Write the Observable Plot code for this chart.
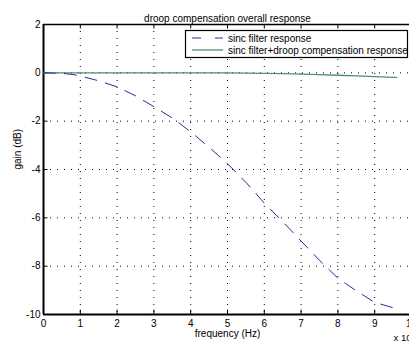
<!DOCTYPE html>
<html>
<head>
<meta charset="utf-8">
<script src="https://cdn.jsdelivr.net/npm/d3@7"></script>
<script src="https://cdn.jsdelivr.net/npm/@observablehq/plot@0.6"></script>
<style>
html, body { margin: 0; padding: 0; background: #fff; overflow: hidden; width: 409px; height: 343px; }
#chart { position: relative; width: 430px; }
#chart svg { max-width: none !important; }
</style>
</head>
<body>
<div id="chart"></div>
<script>
const freq = [0, 0.5, 0.8, 1.0, 1.5, 2.0, 2.5, 3.0, 3.5, 4.0, 4.5, 5.0, 5.5, 6.0, 6.5, 7.0, 7.5, 8.0, 8.5, 9.0, 9.5, 9.6];
const sincGain = [0, -0.02, -0.07, -0.13, -0.33, -0.58, -0.95, -1.40, -1.87, -2.44, -3.08, -3.76, -4.53, -5.39, -6.16, -6.96, -7.76, -8.50, -9.02, -9.50, -9.72, -9.75];
const compGain = [0, 0, 0, 0, 0, 0, 0, 0, 0, 0, 0, 0, -0.01, -0.02, -0.03, -0.05, -0.07, -0.10, -0.13, -0.16, -0.185, -0.19];
const xTicks = [0, 1, 2, 3, 4, 5, 6, 7, 8, 9, 10];
const yTicks = [2, 0, -2, -4, -6, -8, -10];
const seriesNames = ["sinc filter response", "sinc filter+droop compensation response"];
const titleText = "droop compensation overall response";
const xLabel = "frequency (Hz)";
const yLabel = "gain (dB)";
const xExponent = "x 10";

const sincColor = "#2b2b9c";
const compColor = "#4f8f6f";
const font = "'Liberation Sans', Arial, Helvetica, sans-serif";

const sincData = freq.map((f, i) => ({f, g: sincGain[i]}));
const compData = freq.map((f, i) => ({f, g: compGain[i]}));

const xDomain = [0, 10], yDomain = [-10, 2];
const W = 430, H = 343, mL = 43, mR = 19, mT = 24, mB = 29;
const tickLenX = (xDomain[1] - xDomain[0]) * 4.5 / (W - mL - mR);
const tickLenY = (yDomain[1] - yDomain[0]) * 4.5 / (H - mT - mB);

const chart = Plot.plot({
  width: W, height: H,
  marginLeft: mL, marginRight: mR, marginTop: mT, marginBottom: mB,
  style: {fontFamily: font, fontSize: "10px", color: "#000", background: "#fff", overflow: "visible", maxWidth: "none"},
  x: {domain: xDomain, label: null},
  y: {domain: yDomain, label: null},
  marks: [
    Plot.gridX(xTicks.filter(d => d > 0), {stroke: "#000", strokeOpacity: 1, strokeWidth: 1, strokeDasharray: "1,6"}),
    Plot.gridY(yTicks.filter(d => d > -10 && d < 2), {stroke: "#000", strokeOpacity: 1, strokeWidth: 1, strokeDasharray: "1,6"}),
    Plot.axisX({ticks: xTicks, tickSize: 0, tickPadding: 5, fontSize: 10, tickFormat: d => String(d)}),
    Plot.axisY({ticks: yTicks, tickSize: 0, tickPadding: 3, fontSize: 10, tickFormat: d => d < 0 ? "-" + Math.abs(d) : String(d)}),
    Plot.ruleX(xTicks, {x: d => d, y1: yDomain[0], y2: yDomain[0] + tickLenY, stroke: "#000"}),
    Plot.ruleX(xTicks, {x: d => d, y1: yDomain[1], y2: yDomain[1] - tickLenY, stroke: "#000"}),
    Plot.ruleY(yTicks, {y: d => d, x1: xDomain[0], x2: xDomain[0] + tickLenX, stroke: "#000"}),
    Plot.ruleX([xDomain[0]], {stroke: "#000", strokeWidth: 2}),
    Plot.ruleY([yDomain[0]], {stroke: "#000", strokeWidth: 2}),
    Plot.ruleY([yDomain[1]], {stroke: "#000", strokeWidth: 1.5}),
    Plot.line(compData, {x: "f", y: "g", stroke: compColor, strokeWidth: 1.3}),
    Plot.line(sincData, {x: "f", y: "g", stroke: sincColor, strokeWidth: 1, strokeDasharray: "12,9"}),
    Plot.text([titleText], {frameAnchor: "top", dy: -10, fontSize: 10}),
    Plot.text([xLabel], {frameAnchor: "bottom", dy: 22, fontSize: 10}),
    Plot.text([yLabel], {frameAnchor: "left", dx: -26, rotate: -90, fontSize: 10}),
    Plot.text([xExponent], {frameAnchor: "bottom-right", dx: -18, dy: 26, textAnchor: "start", fontSize: 9.5})
  ]
});

document.getElementById("chart").appendChild(chart);

// Legend box drawn into the same SVG
const svg = d3.select(chart);
const lg = svg.append("g").attr("font-family", font).attr("font-size", 10).attr("text-anchor", "start");
lg.append("rect").attr("x", 185.5).attr("y", 30.5).attr("width", 222).attr("height", 27)
  .attr("fill", "#fff").attr("stroke", "#000").attr("stroke-width", 1.2);
const entries = [
  {name: seriesNames[0], color: sincColor, dash: "9,14", width: 1},
  {name: seriesNames[1], color: compColor, dash: null, width: 1.3}
];
entries.forEach((e, i) => {
  const y = 38 + i * 12;
  lg.append("line").attr("x1", 192).attr("x2", 223).attr("y1", y).attr("y2", y)
    .attr("stroke", e.color).attr("stroke-width", e.width).attr("stroke-dasharray", e.dash);
  lg.append("text").attr("x", 228).attr("y", y).attr("dy", "0.35em").attr("text-anchor", "start").text(e.name);
});
</script>
</body>
</html>
